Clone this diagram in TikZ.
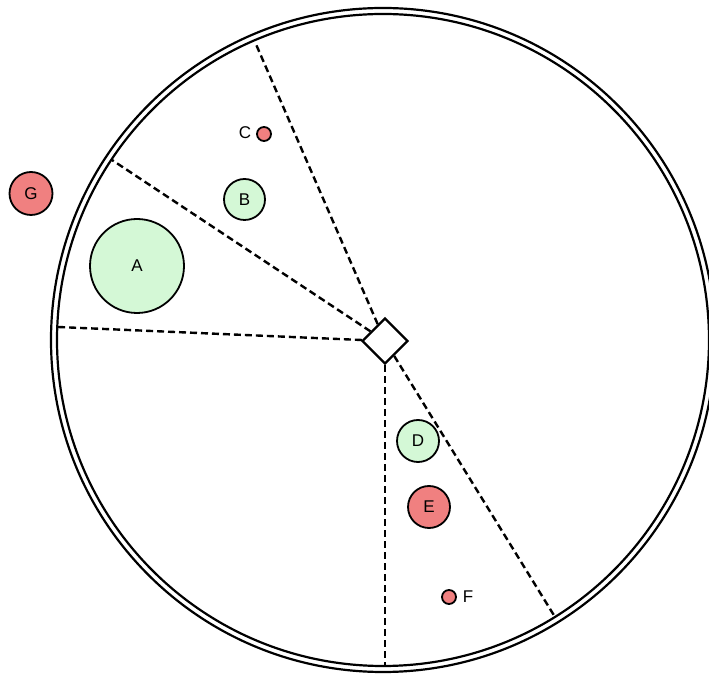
\documentclass[tikz,border=0pt]{standalone}
\usepackage{fontspec}
\setmainfont{Liberation Sans}
\usetikzlibrary{shapes.geometric,calc}
\definecolor{mint}{RGB}{212,248,214}
\definecolor{coral}{RGB}{240,128,128}
\newcommand{\lblfont}{\fontsize{17}{19}\selectfont}
\tikzset{
  ring/.style={line width=2.2pt, draw=black},
  ray/.style={line width=2.4pt, dash pattern=on 7pt off 4pt},
  ball/.style={circle, draw=black, line width=1.8pt, inner sep=0pt, font=\lblfont},
  good/.style={ball, fill=mint},
  bad/.style={ball, fill=coral},
  hub/.style={diamond, draw=black, line width=2.3pt, fill=white, inner sep=0pt, minimum width=46pt, minimum height=46pt},
  tag/.style={font=\lblfont, inner sep=0pt}
}
\begin{document}
\begin{tikzpicture}[x=1pt,y=1pt]
  \useasboundingbox (0,0) rectangle (709,677);
  \fill[white] (0,0) rectangle (709,677);
  % double boundary
  \coordinate (o) at (383,337);
  \draw[ring] (o) circle (332);
  \draw[ring] (o) circle (326);
  % rim points of the sector rays
  \coordinate (r1) at (255,635);
  \coordinate (r2) at (112,517);
  \coordinate (r3) at (58,350);
  \coordinate (r4) at (385,11);
  \coordinate (r5) at (555,60);
  % central hub
  \node[hub] (hub) at (385,336) {};
  \foreach \r in {r1,r2,r3,r4,r5} \draw[ray] (hub) -- (\r);
  % objects
  \node[good, minimum size=94pt] (A) at (137,411) {A};
  \node[good, minimum size=41pt] (B) at (244.5,477.5) {B};
  \node[bad, minimum size=14pt] (C) at (264,543) {};
  \node[tag] (Cl) at (245,544) {C};
  \node[good, minimum size=42pt] (D) at (418,236) {D};
  \node[bad, minimum size=42pt] (E) at (429,170) {E};
  \node[bad, minimum size=14pt] (F) at (449,80) {};
  \node[tag] (Fl) at (468,80) {F};
  \node[bad, minimum size=43pt] (G) at (31,483.5) {G};
\end{tikzpicture}
\end{document}
